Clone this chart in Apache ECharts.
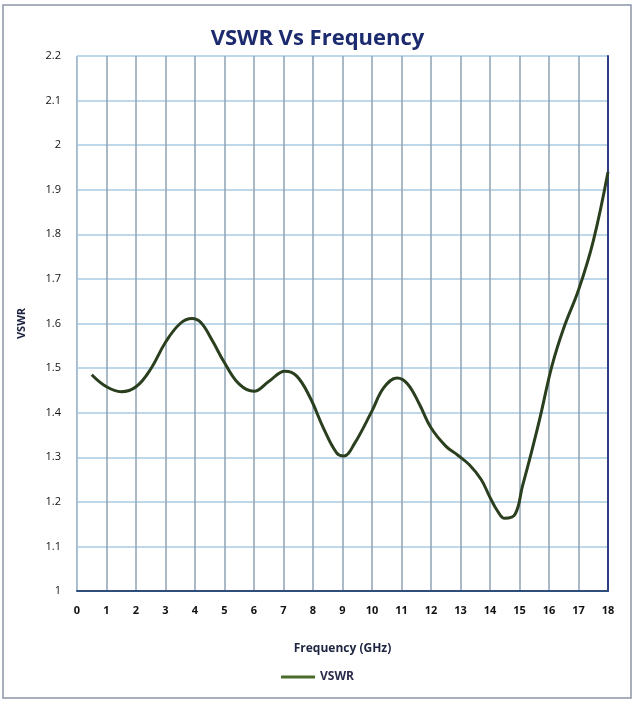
<!DOCTYPE html>
<html><head><meta charset="utf-8">
<script src="https://cdn.jsdelivr.net/npm/echarts@6/dist/echarts.min.js"></script>
<style>html,body{margin:0;padding:0;background:#fff}#c{width:635px;height:702px}</style>
</head><body><div id="c"></div>
<script>
const freq = [0.5, 1.0, 1.5, 2.0, 2.5, 3.0, 3.5, 3.9, 4.2, 4.6, 5.0, 5.5, 6.0, 6.5, 7.05, 7.45, 7.9, 8.35, 8.8, 9.05, 9.4, 10.0, 10.4, 10.85, 11.2, 11.6, 12.0, 12.5, 12.9, 13.3, 13.7, 14.0, 14.25, 14.5, 14.85, 15.1, 15.4, 15.7, 16.1, 16.5, 17.0, 17.5, 18.0];
const vswr = [1.485, 1.458, 1.447, 1.458, 1.498, 1.558, 1.600, 1.611, 1.602, 1.560, 1.512, 1.464, 1.448, 1.470, 1.493, 1.482, 1.434, 1.366, 1.310, 1.303, 1.330, 1.404, 1.456, 1.478, 1.465, 1.420, 1.366, 1.325, 1.305, 1.283, 1.250, 1.210, 1.180, 1.163, 1.172, 1.235, 1.310, 1.390, 1.505, 1.590, 1.675, 1.785, 1.940];
const xTicks = [0, 18, 1];
const yTicks = [1, 2.2, 0.1];
const chart = echarts.init(document.getElementById('c'));
chart.setOption({
  backgroundColor: '#fff',
  animation: false,
  title: { text: 'VSWR Vs Frequency', left: 'center', top: 23,
    textStyle: { fontFamily: 'Open Sans', fontWeight: 'bold', fontSize: 22, color: '#1c2a6e' } },
  grid: { left: 77, right: 27, top: 56, bottom: 111 },
  legend: { bottom: 14, left: 'center', itemWidth: 34, itemHeight: 3, icon: 'rect',
    textStyle: { fontFamily: 'Open Sans', fontWeight: 'bold', fontSize: 12, color: '#2a2a4a' },
    data: ['VSWR'] },
  graphic: [{ type: 'rect', shape: { x: 3, y: 5, width: 628, height: 693 }, style: { fill: 'none', stroke: '#8a94a6', lineWidth: 1.5 } }],
  xAxis: { type: 'value', min: xTicks[0], max: xTicks[1], interval: xTicks[2],
    name: 'Frequency (GHz)', nameLocation: 'middle', nameGap: 52,
    nameTextStyle: { fontFamily: 'Open Sans', fontWeight: 'bold', fontSize: 12, color: '#1c2440' },
    axisLine: { lineStyle: { color: '#2e4d7a', width: 2 } }, axisTick: { show: false },
    axisLabel: { fontFamily: 'Open Sans', fontWeight: 'bold', fontSize: 11, color: '#111', margin: 14 },
    splitLine: { show: true, lineStyle: { color: '#8ea2b3', width: 1.5 } } },
  yAxis: [{ type: 'value', min: yTicks[0], max: yTicks[1], interval: yTicks[2],
    name: 'VSWR', nameLocation: 'middle', nameGap: 50, nameRotate: 90,
    nameTextStyle: { fontFamily: 'Open Sans', fontWeight: 'bold', fontSize: 11, color: '#1c2440' },
    axisLine: { show: true, lineStyle: { color: '#a9c8df', width: 1 } }, axisTick: { show: false },
    axisLabel: { fontFamily: 'Open Sans', fontSize: 11, color: '#111', margin: 16,
      formatter: v => String(Math.round(v * 10) / 10) },
    splitLine: { show: true, lineStyle: { color: '#a9cbe3', width: 1.5 } } },
   { type: 'value', position: 'right', min: yTicks[0], max: yTicks[1], interval: yTicks[2],
    axisLine: { show: true, lineStyle: { color: '#2e3d80', width: 2 } }, axisTick: { show: false },
    axisLabel: { show: false }, splitLine: { show: false } }],
  series: [{ name: 'VSWR', type: 'line', smooth: 0.4, showSymbol: false,
    lineStyle: { color: '#2a3f1e', width: 3 }, itemStyle: { color: '#4a6b2c' },
    data: freq.map((f, i) => [f, vswr[i]]) }]
});
</script></body></html>
